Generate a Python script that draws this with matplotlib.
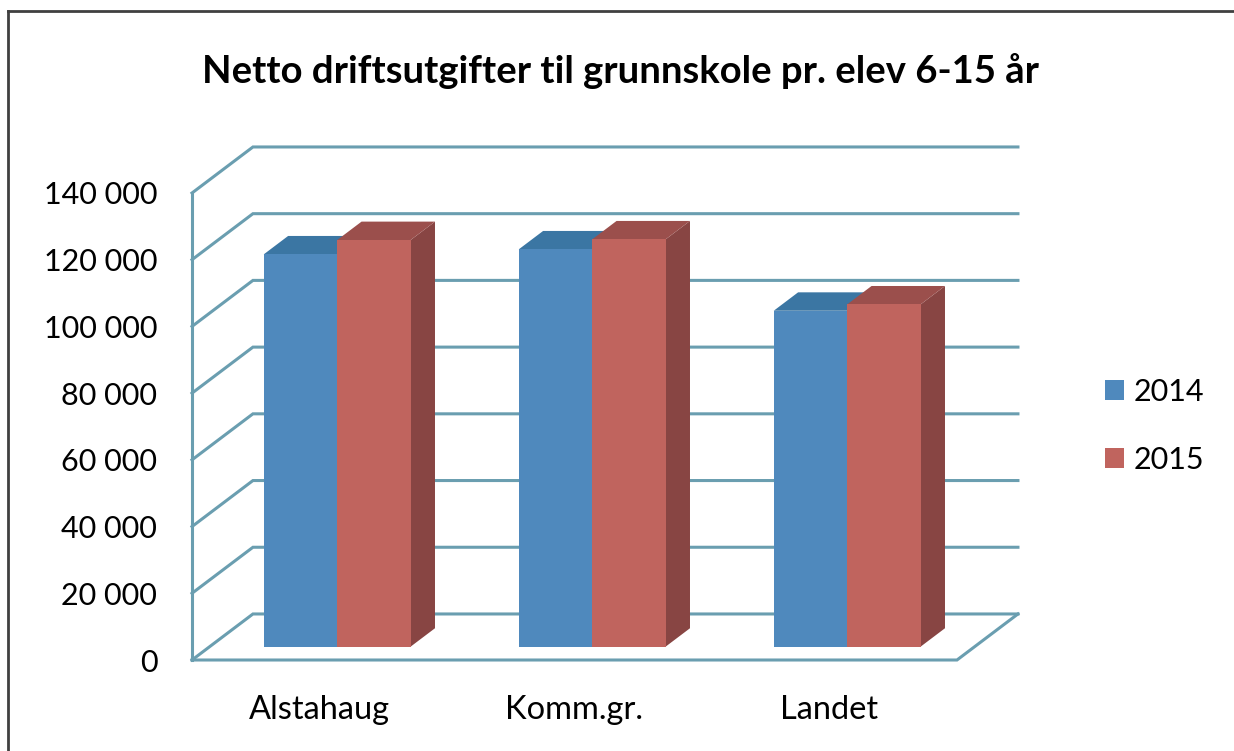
import matplotlib
matplotlib.use('Agg')
import matplotlib.pyplot as plt
from matplotlib.patches import Polygon, Patch
from matplotlib.lines import Line2D

categories = ['Alstahaug', 'Komm.gr.', 'Landet']
series_names = ['2014', '2015']
values_2014 = [117600, 119100, 100700]
values_2015 = [121900, 122100, 102600]
y_ticks = [0, 20000, 40000, 60000, 80000, 100000, 120000, 140000]
y_tick_labels = ['0', '20 000', '40 000', '60 000', '80 000', '100 000', '120 000', '140 000']
title = 'Netto driftsutgifter til grunnskole pr. elev 6-15 år'

front_colors = ['#4F89BD', '#C0645E']
top_colors = ['#3B76A3', '#9B4F4C']
side_colors = ['#3A6C96', '#884543']
grid_color = '#6A9EB0'

plt.rcParams['font.family'] = ['Lato', 'DejaVu Sans']

W, H = 1234, 751
fig = plt.figure(figsize=(W / 100, H / 100), dpi=100)
fig.patch.set_facecolor('white')
ax = fig.add_axes([192 / W, (H - 660) / H, 765 / W, 467 / H])
ax.set_xlim(-0.5, 2.5)
ax.set_ylim(0, 140000)
ax.set_facecolor('none')
for s in ax.spines.values():
    s.set_visible(False)

DX = 0.239     # depth offset in category units
DY = 13800     # depth offset in value units
F0, F1 = 0.29, 0.69   # bar front/back depth fractions
BW = 0.288

lw = 2.2
# walls / grid
ax.plot([-0.5, -0.5], [0, y_ticks[-1]], color=grid_color, lw=lw, clip_on=False, zorder=1)
for t in y_ticks:
    ax.plot([-0.5, -0.5 + DX, 2.5 + DX], [t, t + DY, t + DY], color=grid_color,
            lw=lw, clip_on=False, zorder=1, solid_joinstyle='miter')
ax.plot([-0.5, 2.5, 2.5 + DX], [0, 0, DY], color=grid_color, lw=lw,
        clip_on=False, zorder=1, solid_joinstyle='miter')

# bars
series = [values_2014, values_2015]
offsets = [-BW, 0.0]
z = 3
for i in range(len(categories)):
    for k, vals in enumerate(series):
        x0 = i + offsets[k] + F0 * DX
        base = F0 * DY
        h = vals[i]
        ax.bar(x0, h, width=BW, bottom=base, align='edge', color=front_colors[k],
               edgecolor='none', zorder=z + 0.2, clip_on=False)
        ddx = (F1 - F0) * DX
        ddy = (F1 - F0) * DY
        top = Polygon([(x0, base + h), (x0 + BW, base + h), (x0 + BW + ddx, base + h + ddy),
                       (x0 + ddx, base + h + ddy)], closed=True, facecolor=top_colors[k],
                      edgecolor='none', zorder=z, clip_on=False)
        side = Polygon([(x0 + BW, base), (x0 + BW + ddx, base + ddy), (x0 + BW + ddx, base + h + ddy),
                        (x0 + BW, base + h)], closed=True, facecolor=side_colors[k],
                       edgecolor='none', zorder=z, clip_on=False)
        ax.add_patch(side)
        ax.add_patch(top)
        z += 1

ax.set_yticks(y_ticks, y_tick_labels)
ax.set_xticks(range(len(categories)), categories)
ax.tick_params(axis='both', length=0, labelsize=22, colors='black')
ax.tick_params(axis='x', labelsize=23.5)
ax.tick_params(axis='y', pad=25)
ax.tick_params(axis='x', pad=25)

fig.text(621 / W, 1 - 71 / H, title, ha='center', va='center', fontsize=27.5,
         fontweight='bold', color='black')

handles = [Patch(facecolor=c, edgecolor='none') for c in front_colors]
fig.legend(handles, series_names, loc='center left', bbox_to_anchor=(1090 / W, 1 - 426 / H),
           frameon=False, fontsize=22, handlelength=0.62, handleheight=0.62,
           handletextpad=0.3, labelspacing=1.3, borderpad=0)

# outer frame
fig.add_artist(Line2D([8 / W, 8 / W], [0, 1 - 11 / H], color='#404040', lw=2, transform=fig.transFigure))
fig.add_artist(Line2D([8 / W, 1], [1 - 11 / H, 1 - 11 / H], color='#404040', lw=2, transform=fig.transFigure))

fig.savefig('out.png', dpi=100, facecolor='white')
